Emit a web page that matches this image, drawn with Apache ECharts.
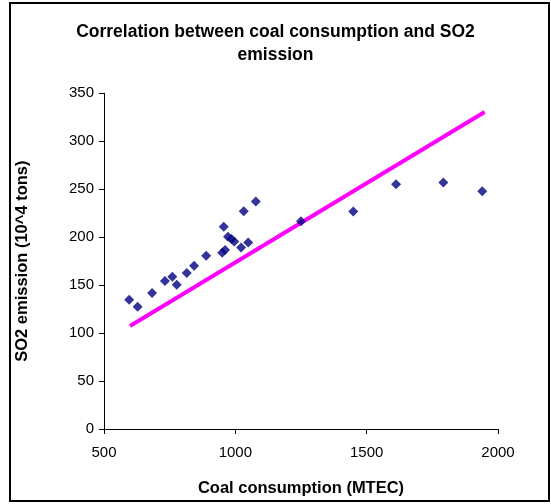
<!DOCTYPE html>
<html>
<head>
<meta charset="utf-8">
<script src="https://cdn.jsdelivr.net/npm/echarts@6/dist/echarts.min.js"></script>
<style>
html,body{margin:0;padding:0;background:#fff;}
#chart{width:551px;height:504px;}
</style>
</head>
<body>
<div id="chart"></div>
<script>
// Observed data: coal consumption (MTEC) vs SO2 emission (10^4 tons)
var coalConsumption = [596, 628, 683, 732, 760, 777, 815, 843, 889, 950, 961, 956, 972, 985, 996, 1022, 1049, 1032, 1078, 1250, 1449, 1612, 1792, 1940];
var so2Emission     = [134.8, 127.5, 141.8, 154.3, 158.8, 150.4, 162.6, 170.2, 180.6, 183.7, 186.5, 210.8, 200.4, 198, 195.5, 189.3, 194.5, 227.1, 237.1, 216.7, 226.7, 255.3, 257, 248];
// Magenta reference line end points
var lineX = [599, 1949];
var lineY = [107.4, 330.5];
// Axis tick settings
var xTicks = {min: 500, max: 2000, interval: 500};
var yTicks = {min: 0, max: 350, interval: 50};

var scatterData = coalConsumption.map(function(x, i){ return [x, so2Emission[i]]; });
var lineData = lineX.map(function(x, i){ return [x, lineY[i]]; });

var font = '"Liberation Sans", Arial, sans-serif';
var chart = echarts.init(document.getElementById('chart'), null, {renderer: 'canvas'});
chart.setOption({
  animation: false,
  backgroundColor: '#fff',
  title: {
    text: 'Correlation between coal consumption and SO2\nemission',
    left: 'center',
    top: 16,
    textStyle: {fontFamily: font, fontSize: 17.5, fontWeight: 'bold', color: '#000', lineHeight: 23}
  },
  graphic: [{
    type: 'rect',
    shape: {x: 10, y: 3, width: 539, height: 498},
    style: {fill: 'none', stroke: '#000', lineWidth: 2},
    silent: true
  }],
  grid: {left: 104, right: 53, top: 93.3, bottom: 75, containLabel: false},
  xAxis: {
    type: 'value',
    min: xTicks.min, max: xTicks.max, interval: xTicks.interval,
    name: 'Coal consumption (MTEC)',
    nameLocation: 'middle',
    nameGap: 51,
    nameTextStyle: {fontFamily: font, fontSize: 16.5, fontWeight: 'bold', color: '#000'},
    axisLine: {show: true, lineStyle: {color: '#000', width: 1}},
    axisTick: {show: true, length: 5, lineStyle: {color: '#000'}},
    axisLabel: {fontFamily: font, fontSize: 15, color: '#000', margin: 16, formatter: function(v){ return String(v); }},
    splitLine: {show: false}
  },
  yAxis: {
    type: 'value',
    min: yTicks.min, max: yTicks.max, interval: yTicks.interval,
    name: 'SO2 emission (10^4 tons)',
    nameLocation: 'middle',
    nameGap: 73,
    nameTextStyle: {fontFamily: font, fontSize: 16.5, fontWeight: 'bold', color: '#000'},
    axisLine: {show: true, lineStyle: {color: '#000', width: 1}},
    axisTick: {show: true, length: 5, lineStyle: {color: '#000'}},
    axisLabel: {fontFamily: font, fontSize: 15, color: '#000', margin: 10, formatter: function(v){ return String(v); }},
    splitLine: {show: false}
  },
  series: [{
    type: 'line',
    data: lineData,
    showSymbol: false,
    symbol: 'none',
    lineStyle: {color: '#FF00FF', width: 4},
    z: 2
  }, {
    type: 'scatter',
    data: scatterData,
    symbol: 'diamond',
    symbolSize: 10,
    itemStyle: {color: '#000080'},
    z: 3
  }]
});
</script>
</body>
</html>
